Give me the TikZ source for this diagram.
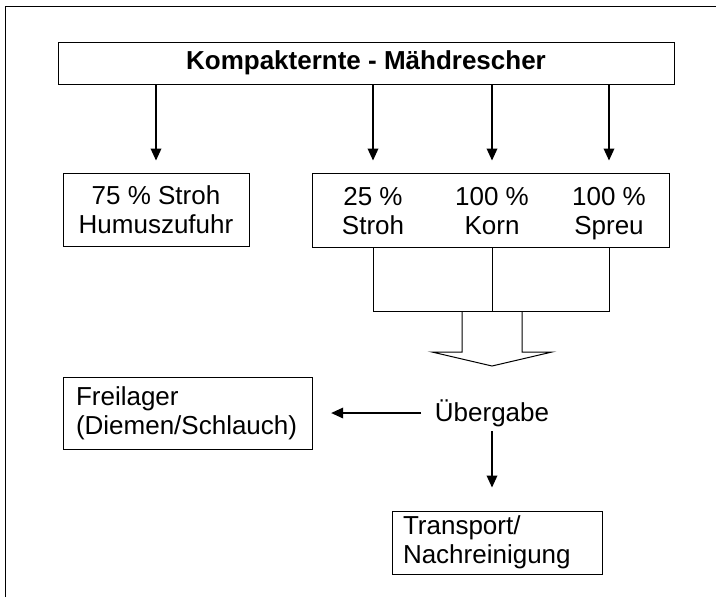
\documentclass[tikz,border=0pt]{standalone}
\usepackage{fontspec}
\setmainfont{Liberation Sans}
\usetikzlibrary{positioning, arrows.meta}

\tikzset{
    kasten/.style={draw, line width=0.75pt, inner sep=0pt, align=center},
    linksbox/.style={kasten, align=left, inner xsep=9.5pt},
    eintrag/.style={align=center, inner sep=0pt, anchor=north},
    pfeil/.style={line width=1pt, -{Triangle[length=9pt, width=8pt]}},
    linie/.style={line width=0.75pt}
}

\begin{document}
\begin{tikzpicture}[x=0.75pt, y=-0.75pt, node distance=1mm,
    every node/.style={font=\fontsize{19.5}{21.75}\selectfont}]
    \useasboundingbox (0,0) rectangle (716,597);
    % Rahmen
    \draw[line width=0.75pt] (5,597) -- (5,6) -- (716,6);

    \node[kasten, minimum width=462pt, minimum height=31.5pt,
        font=\fontsize{19.5}{21.75}\selectfont\bfseries] (title) at (366,63) {Kompakternte - Mähdrescher};

    \node[kasten, minimum width=139.5pt, minimum height=54.75pt] (stroh75) at (156,209.5) {75 \% Stroh\\Humuszufuhr};
    \node[kasten, minimum width=267.75pt, minimum height=55.5pt] (restbox) at (490.5,210) {};
    \node[eintrag] (stroh25) at (373,187) {25 \%\\Stroh};
    \node[eintrag] (korn) at (492,187) {100 \%\\Korn};
    \node[eintrag] (spreu) at (609,187) {100 \%\\Spreu};

    \draw[pfeil, shorten >=9pt] (title.south -| stroh75) -- (stroh75.north);
    \draw[pfeil, shorten >=9pt] (title.south -| stroh25) -- (restbox.north -| stroh25);
    \draw[pfeil, shorten >=9pt] (title.south -| korn) -- (restbox.north -| korn);
    \draw[pfeil, shorten >=9pt] (title.south -| spreu) -- (restbox.north -| spreu);

    % Zusammenfuehrung
    \coordinate (sammel) at (492,311);
    \draw[linie] (restbox.south -| stroh25) -- (stroh25 |- sammel) -- (spreu |- sammel) -- (restbox.south -| spreu);
    \draw[linie] (restbox.south -| korn) -- (sammel);
    \draw[linie] ([xshift=-22.5pt]sammel) -- ++(0,41) -- ++(-30,0) -- ++(60,14) -- ++(60,-14) -- ++(-30,0) -- ++(0,-41);

    \node (uebergabe) at (492,413) {Übergabe};
    \node[linksbox, text width=168pt, minimum height=54pt] (freilager) at (188,413) {Freilager\\(Diemen/Schlauch)};
    \node[linksbox, inner xsep=8.25pt, text width=141pt, minimum height=47.25pt] (transport) at (497,542.5) {Transport/\\Nachreinigung};

    \draw[pfeil, shorten <=6.75pt, shorten >=13.5pt] (uebergabe.west) -- (freilager.east);
    \draw[pfeil, shorten >=17.25pt] (uebergabe.south) -- (uebergabe.south |- transport.north);
\end{tikzpicture}
\end{document}
